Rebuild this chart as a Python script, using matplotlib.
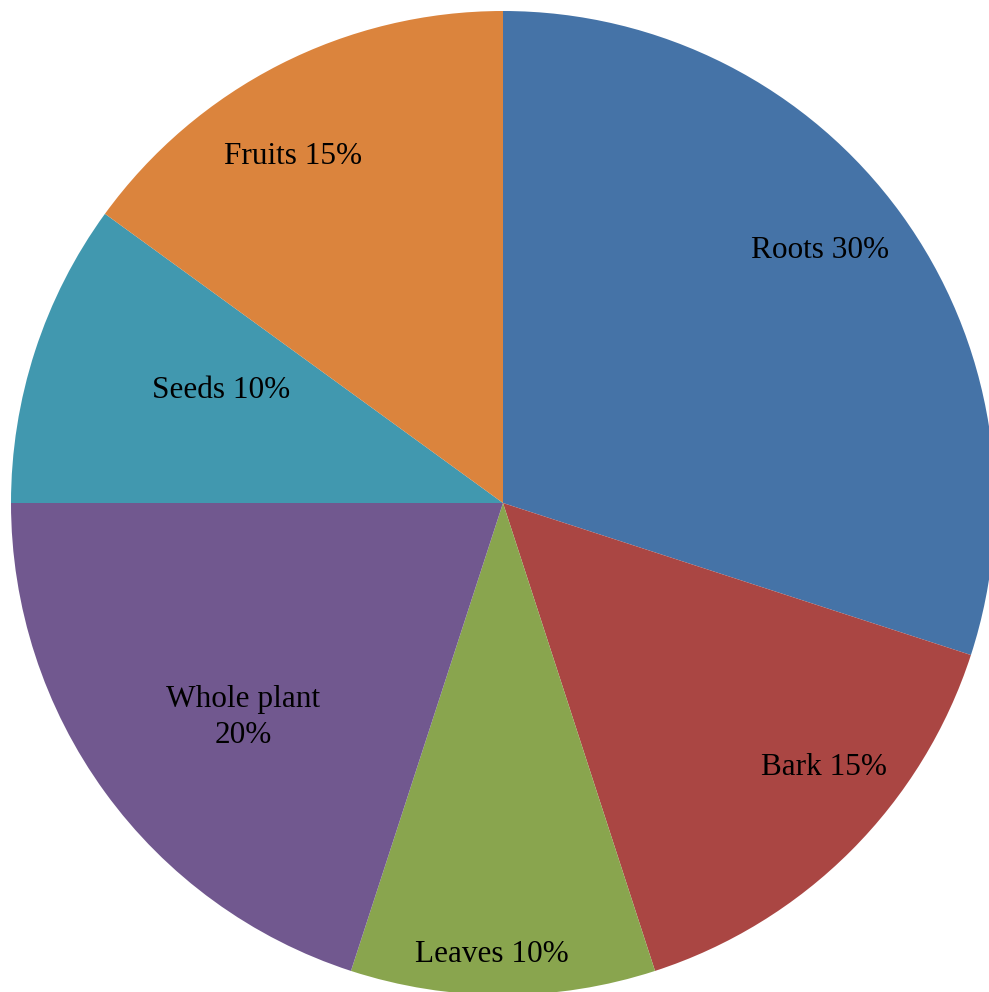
import numpy as np
import matplotlib
matplotlib.use('Agg')
import matplotlib.pyplot as plt
import matplotlib.transforms as mtransforms

plt.rcParams['font.family'] = ['Liberation Serif', 'DejaVu Serif']

parts = ['Roots', 'Bark', 'Leaves', 'Whole plant', 'Seeds', 'Fruits']
shares = [30, 15, 10, 20, 10, 15]
colors = ['#4573A7', '#AA4643', '#89A54E', '#71588F', '#4198AF', '#DB843D']
labels = ['Roots 30%', 'Bark 15%', 'Leaves 10%', 'Whole plant\n20%', 'Seeds 10%', 'Fruits 15%']
# where each label sits: (angle in degrees, fraction of radius)
label_pos = [(39, 0.83), (-39, 0.84), (-91.4, 0.91), (-141, 0.68), (157.5, 0.62), (121, 0.83)]

R = 492.0
fig = plt.figure(figsize=(9.89, 9.92), dpi=100)
ax = fig.add_axes([0, 0, 1, 1])
wedges, _ = ax.pie(shares, colors=colors, startangle=90, counterclock=False,
                   radius=1, wedgeprops=dict(linewidth=0))

# nudge labels a few pixels down
trans = mtransforms.offset_copy(ax.transData, fig=fig, x=0, y=-4, units='dots')
for (ang, r), txt in zip(label_pos, labels):
    a = np.deg2rad(ang)
    ax.text(r * np.cos(a), r * np.sin(a), txt, ha='center', va='center',
            fontsize=22.5, color='black', linespacing=1.3, transform=trans)

ax.set_xlim(-503 / R, 486 / R)
ax.set_ylim(-489 / R, 503 / R)
ax.set_aspect('auto')
ax.axis('off')

fig.savefig('out.png', dpi=100)
